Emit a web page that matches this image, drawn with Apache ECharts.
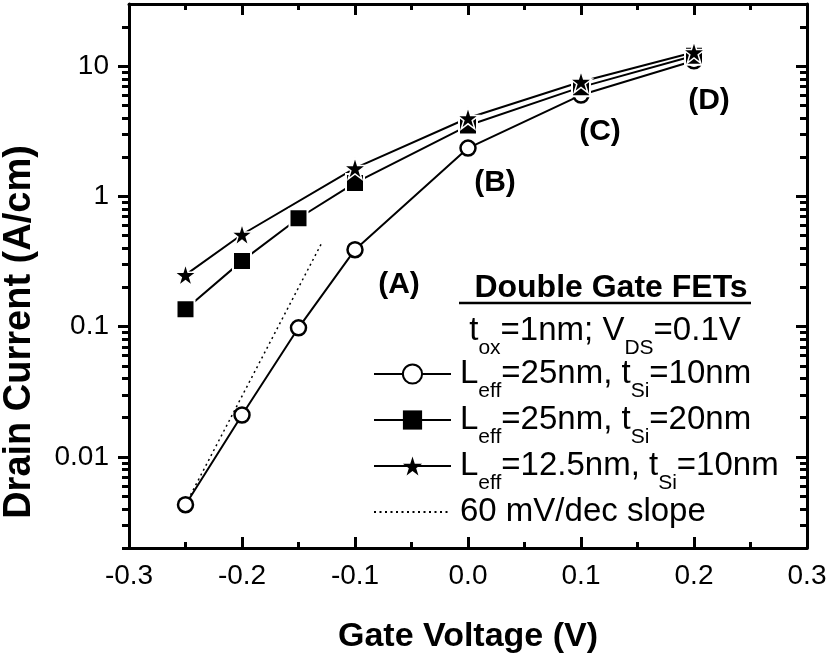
<!DOCTYPE html>
<html>
<head>
<meta charset="utf-8">
<script src="https://cdn.jsdelivr.net/npm/echarts@6/dist/echarts.min.js"></script>
<style>
    html, body { margin: 0; padding: 0; background: #fff; }
    #main { width: 828px; height: 654px; }
</style>
</head>
<body>
<div id="main"></div>
<script>
// gate voltage (V)
const vg = [-0.25, -0.2, -0.15, -0.1, 0.0, 0.1, 0.2]
// drain current (A/cm)
const idL25T10 = [0.0043, 0.021, 0.098, 0.39, 2.35, 6.0, 11.0]
const idL25T20 = [0.136, 0.32, 0.68, 1.27, 3.5, 6.9, 12.0]
// the 12.5nm device has no point at -0.15
const vgL125 = [-0.25, -0.2, -0.1, 0.0, 0.1, 0.2]
const idL125T10 = [0.25, 0.51, 1.65, 4.0, 7.6, 12.8]
// 60 mV/dec guide line
const slopeV = [-0.25, -0.13]
const slopeId = [0.0043, 0.43]

const yMin = 0.002
const yMax = 30
const yMajor = [0.01, 0.1, 1, 10]
const yMajorLabels = ['0.01', '0.1', '1', '10']
const yMinor = [0.002, 0.003, 0.004, 0.005, 0.006, 0.007, 0.008, 0.009,
    0.02, 0.03, 0.04, 0.05, 0.06, 0.07, 0.08, 0.09,
    0.2, 0.3, 0.4, 0.5, 0.6, 0.7, 0.8, 0.9,
    2, 3, 4, 5, 6, 7, 8, 9, 20]

const names = ['Leff=25nm, tSi=10nm', 'Leff=25nm, tSi=20nm', 'Leff=12.5nm, tSi=10nm', '60 mV/dec slope']
const richNames = {
    'Leff=25nm, tSi=10nm': 'L{s|eff}=25nm, t{s|Si}=10nm',
    'Leff=25nm, tSi=20nm': 'L{s|eff}=25nm, t{s|Si}=20nm',
    'Leff=12.5nm, tSi=10nm': 'L{s|eff}=12.5nm, t{s|Si}=10nm',
    '60 mV/dec slope': '60 mV/dec slope'
}

const FONT = '"Liberation Sans", Arial, Helvetica, sans-serif'
const STAR = 'path://M50 0L61.2 34.5H97.6L68.2 55.9L79.4 90.5L50 69.1L20.6 90.5L31.8 55.9L2.4 34.5H38.8Z'

// log axis is drawn as a value axis in decades
const lg = v => Math.log10(v)
const pairs = (xs, ys) => xs.map((x, i) => [x, lg(ys[i])])

const subStyle = { fontSize: 21, lineHeight: 20, fontFamily: FONT, color: '#000', fill: '#000', padding: [17, 0, -17, 0] }

function xAxisCfg (pos, showLabel) {
    return {
        type: 'value',
        position: pos,
        min: -0.3,
        max: 0.3,
        interval: 0.1,
        axisLine: { show: true, onZero: false, lineStyle: { color: '#000', width: 3 } },
        axisTick: { show: true, inside: true, length: 11, lineStyle: { color: '#000', width: 3 } },
        minorTick: { show: true, splitNumber: 2, length: 6, lineStyle: { color: '#000', width: 3 } },
        splitLine: { show: false },
        minorSplitLine: { show: false },
        axisLabel: {
            show: showLabel,
            margin: 14,
            fontSize: 28,
            fontFamily: FONT,
            color: '#000',
            formatter: v => v.toFixed(1)
        }
    }
}

function yAxisCfg (pos, ticks, len, inside, showLine) {
    return {
        type: 'value',
        position: pos,
        min: lg(yMin),
        max: lg(yMax),
        axisLine: { show: showLine, onZero: false, lineStyle: { color: '#000', width: 3 } },
        axisTick: { show: true, inside: inside, length: len, customValues: ticks.map(lg), lineStyle: { color: '#000', width: 3 } },
        splitLine: { show: false },
        axisLabel: { show: false }
    }
}

const chart = echarts.init(document.getElementById('main'), null, { renderer: 'canvas' })

const bottomX = xAxisCfg('bottom', true)
bottomX.name = 'Gate Voltage (V)'
bottomX.nameLocation = 'middle'
bottomX.nameGap = 72
bottomX.nameTextStyle = { fontSize: 34, fontWeight: 'bold', fontFamily: FONT, color: '#000' }

const leftY = yAxisCfg('left', yMajor, 11, false, true)
leftY.axisLabel = {
    show: true,
    customValues: yMajor.map(lg),
    margin: 20,
    fontSize: 28,
    fontFamily: FONT,
    color: '#000',
    formatter: v => {
        let best = 0
        yMajor.forEach((m, i) => { if (Math.abs(lg(m) - v) < Math.abs(lg(yMajor[best]) - v)) best = i })
        return yMajorLabels[best]
    }
}
leftY.name = 'Drain Current (A/cm)'
leftY.nameLocation = 'middle'
leftY.nameGap = 90
leftY.nameTextStyle = { fontSize: 38, fontWeight: 'bold', fontFamily: FONT, color: '#000', padding: [0, 112, 0, 0] }

chart.setOption({
    animation: false,
    backgroundColor: '#fff',
    grid: { left: 129, right: 21, top: 4, bottom: 106, containLabel: false, outerBoundsMode: 'none' },
    xAxis: [bottomX, xAxisCfg('top', false)],
    yAxis: [
        leftY,
        yAxisCfg('left', yMinor, 7, false, false),
        yAxisCfg('right', yMajor, 11, true, true),
        yAxisCfg('right', yMinor, 7, true, false)
    ],
    legend: {
        orient: 'vertical',
        left: 373,
        top: 356,
        padding: 0,
        itemWidth: 77,
        itemHeight: 24,
        itemGap: 0.5,
        selectedMode: false,
        data: [
            { name: names[0] },
            { name: names[1], itemStyle: { borderWidth: 0 } },
            { name: names[2], itemStyle: { borderWidth: 0 } },
            { name: names[3], itemStyle: { opacity: 0 } }
        ],
        formatter: name => richNames[name],
        textStyle: {
            fontSize: 33,
            lineHeight: 36,
            fontFamily: FONT,
            color: '#000',
            padding: [0, 0, 0, 4],
            rich: { s: subStyle }
        }
    },
    graphic: [
        { type: 'text', x: 399, y: 285, style: { text: '(A)', font: 'bold 30px ' + FONT, fill: '#000', align: 'center', verticalAlign: 'middle', textAlign: 'center', textVerticalAlign: 'middle' } },
        { type: 'text', x: 495, y: 183, style: { text: '(B)', font: 'bold 30px ' + FONT, fill: '#000', align: 'center', verticalAlign: 'middle', textAlign: 'center', textVerticalAlign: 'middle' } },
        { type: 'text', x: 600, y: 132, style: { text: '(C)', font: 'bold 30px ' + FONT, fill: '#000', align: 'center', verticalAlign: 'middle', textAlign: 'center', textVerticalAlign: 'middle' } },
        { type: 'text', x: 709, y: 101, style: { text: '(D)', font: 'bold 30px ' + FONT, fill: '#000', align: 'center', verticalAlign: 'middle', textAlign: 'center', textVerticalAlign: 'middle' } },
        { type: 'text', x: 611, y: 288, style: { text: 'Double Gate FETs', font: 'bold 32px ' + FONT, fill: '#000', align: 'center', verticalAlign: 'middle', textAlign: 'center', textVerticalAlign: 'middle' } },
        { type: 'line', shape: { x1: 459, y1: 303, x2: 751, y2: 303 }, style: { stroke: '#000', lineWidth: 2.5 } },
        {
            type: 'text',
            x: 605,
            y: 331,
            style: {
                text: 't{s|ox}=1nm; V{s|DS}=0.1V',
                fontSize: 33,
                fontFamily: FONT,
                lineHeight: 36,
                fill: '#000',
                align: 'center',
                verticalAlign: 'middle',
                textAlign: 'center',
                textVerticalAlign: 'middle',
                rich: { s: subStyle }
            }
        }
    ],
    series: [
        {
            name: names[0],
            type: 'line',
            data: pairs(vg, idL25T10),
            symbol: 'circle',
            symbolSize: 15,
            lineStyle: { color: '#000', width: 2 },
            itemStyle: { color: '#fff', borderColor: '#000', borderWidth: 2.5 }
        },
        {
            name: names[1],
            type: 'line',
            data: pairs(vg, idL25T20),
            symbol: 'rect',
            symbolSize: 18,
            lineStyle: { color: '#000', width: 2 },
            itemStyle: { color: '#000', borderColor: '#fff', borderWidth: 2 }
        },
        {
            name: names[2],
            type: 'line',
            data: pairs(vgL125, idL125T10),
            symbol: STAR,
            symbolSize: 22,
            lineStyle: { color: '#000', width: 2 },
            itemStyle: { color: '#000', borderColor: '#fff', borderWidth: 1.5 }
        },
        {
            name: names[3],
            type: 'line',
            data: pairs(slopeV, slopeId),
            symbol: 'none',
            lineStyle: { color: '#000', width: 1.5, type: [2, 3.5] },
            itemStyle: { color: '#000' }
        }
    ]
})
</script>
</body>
</html>
